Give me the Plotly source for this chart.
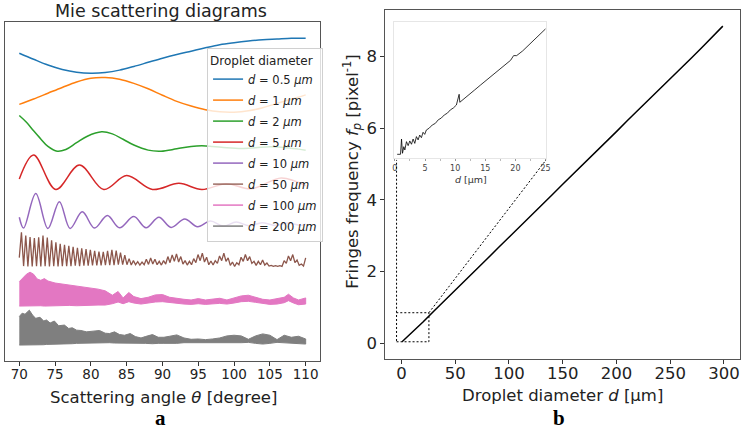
import numpy as np
import plotly.graph_objects as go

# ---------------- panel a: Mie scattering diagrams (stacked, arbitrary units) ----------------
d_labels = ["0.5", "1", "2", "5", "10", "50", "100", "200"]
colors = ["#1f77b4", "#ff7f0e", "#2ca02c", "#d62728", "#9467bd", "#8c564b", "#e377c2", "#7f7f7f"]

theta_05 = [70, 72, 74, 76, 78, 80, 82, 84, 86, 88, 90, 92, 94, 96, 98, 100, 102, 104, 106, 108, 110]
I_05 = [90.8, 89.0, 87.3, 86.0, 85.2, 84.9, 85.1, 85.8, 86.9, 88.1, 89.3, 90.4, 91.4, 92.4, 93.3,
        93.9, 94.4, 94.8, 95.0, 95.2, 95.2]

theta_1 = [70, 72, 74, 76, 78, 80, 82, 84, 86, 88, 90, 92, 94, 96, 98, 100, 102, 104, 106, 108, 110]
I_1 = [75.7, 77.3, 79.0, 80.7, 82.3, 83.4, 83.6, 83.1, 81.9, 80.3, 78.4, 76.6, 75.2, 74.1, 73.5,
       73.4, 73.8, 74.7, 76.0, 77.2, 78.5]

theta_2 = [70, 71, 72, 73, 74, 75.3, 76.5, 78, 79.5, 81.5, 83, 84.5, 86, 88, 89.8, 92, 94, 95.5,
           97, 99, 101, 103, 105, 107, 109, 110]
I_2 = [72.4, 70.4, 67.9, 65.5, 63.3, 61.9, 62.4, 64.4, 66.3, 67.6, 67.0, 65.4, 63.7, 62.2, 61.9,
       62.6, 63.3, 63.5, 63.3, 62.9, 62.7, 62.9, 63.2, 63.0, 62.5, 62.2]

theta_5 = [70, 72.0, 75.1, 78.4, 81.8, 85.0, 88.6, 92.3, 95.5, 98.9, 102.4, 106.6, 110]
I_5 = [53.7, 60.8, 50.6, 57.8, 50.6, 54.7, 50.6, 52.4, 50.6, 52.3, 50.8, 54.0, 51.7]

theta_10 = [70, 70.6, 72.3, 74.0, 75.6, 77.1, 78.8, 80.5, 82.3, 84.0, 86.0, 87.7, 89.5, 91.2, 93.1,
            94.9, 96.7, 98.5, 100.3, 102.1, 103.9, 105.7, 107.5, 109.3, 110]
I_10 = [42.4, 39.2, 49.4, 39.1, 47.0, 39.1, 44.0, 39.2, 42.9, 39.3, 42.6, 39.3, 42.4, 39.4, 41.9,
        39.6, 41.3, 39.8, 41.0, 39.9, 40.8, 40.0, 40.7, 40.0, 40.4]

# d = 50 um, sampled on a regular angular grid (70..110 deg)
I_50 = [30.5, 38.0, 28.0, 37.0, 27.9, 36.6, 27.9, 36.3, 28.0, 36.5,
        27.9, 37.0, 28.0, 36.4, 27.9, 35.6, 28.0, 35.0, 27.9, 34.6,
        28.0, 34.3, 28.0, 34.0, 28.0, 33.7, 28.1, 33.4, 28.0, 33.2,
        28.1, 33.0, 28.1, 32.8, 28.2, 32.5, 28.2, 32.3, 28.2, 32.2,
        28.3, 32.5, 28.3, 32.8, 28.3, 32.6, 28.4, 32.0, 28.4, 31.2,
        28.4, 30.2, 28.3, 29.6, 28.4, 29.3, 28.3, 29.2, 28.4, 30.0,
        28.5, 30.4, 28.6, 30.0, 28.4, 29.4, 28.3, 29.6, 28.6, 30.8,
        29.0, 31.3, 29.4, 31.6, 29.2, 30.8, 28.6, 29.6, 28.3, 29.4,
        28.4, 30.2, 29.0, 31.4, 29.6, 31.8, 29.2, 30.6, 28.4, 29.5,
        28.3, 29.6, 28.8, 31.0, 29.6, 31.8, 29.4, 30.4, 28.2, 29.2,
        27.9, 29.0, 28.4, 30.6, 29.4, 31.4, 29.6, 30.8, 28.8, 29.4,
        28.2, 29.4, 28.4, 29.8, 28.3, 28.9, 28.0, 28.2, 27.9, 28.1,
        27.9, 28.1, 27.9, 29.6, 28.8, 31.0, 29.6, 31.4, 29.0, 29.8,
        28.2, 28.6, 28.0, 30.4]
theta_50 = np.linspace(70, 110, len(I_50))

# d = 100 um and d = 200 um: fringes too dense to resolve, read as upper/lower envelopes
theta_100 = [70, 70.5, 71, 71.5, 72, 72.5, 73, 73.5, 74, 75, 76, 77, 78, 79, 80, 81, 82, 83, 83.8,
             84.5, 85.3, 86, 87, 88, 89, 90, 91, 92, 93, 94, 95, 96, 97, 98, 99, 100, 101, 102,
             103, 104, 105, 106, 107, 107.6, 108.3, 109, 110]
I_100_top = [23.4, 24.6, 25.6, 26.2, 25.6, 24.2, 23.8, 24.3, 23.6, 23.0, 22.7, 22.4, 22.1, 21.8,
             21.6, 21.2, 20.7, 19.4, 20.5, 18.6, 20.2, 19.0, 18.4, 18.8, 19.5, 19.6, 18.8, 18.4,
             18.2, 18.0, 18.4, 18.0, 18.2, 18.5, 18.0, 18.6, 19.2, 19.4, 18.8, 18.2, 18.0, 18.3,
             18.8, 19.7, 18.6, 18.0, 18.6]
I_100_bot = [16.2, 16.3, 16.2, 16.3, 16.2, 16.3, 16.3, 16.2, 16.3, 16.3, 16.3, 16.4, 16.3, 16.4,
             16.4, 16.5, 16.5, 16.9, 17.4, 16.9, 17.5, 17.1, 16.8, 17.0, 17.4, 17.5, 17.2, 17.0,
             16.8, 16.7, 16.9, 16.7, 16.8, 17.0, 16.8, 17.1, 17.5, 17.6, 17.3, 16.9, 16.7, 16.8,
             17.2, 17.8, 17.1, 16.6, 16.8]

theta_200 = [70, 70.4, 70.8, 71.4, 71.9, 72.3, 72.9, 73.4, 73.8, 74.3, 74.9, 75.5, 76.3, 76.9,
             77.4, 78.0, 78.6, 79.4, 80.3, 81.2, 82.0, 82.6, 83.3, 84.0, 84.7, 85.5, 86.2, 87.0,
             87.6, 88.6, 89.4, 90.2, 91.0, 92.0, 93.0, 94.0, 95.0, 96.0, 97.0, 98.0, 99.0, 100.0,
             101.0, 102.0, 103.0, 104.0, 105.0, 106.0, 107.0, 108.0, 109.0, 110]
I_200_top = [13.1, 14.1, 13.8, 15.0, 13.4, 12.6, 12.9, 11.8, 12.1, 11.2, 11.8, 10.4, 10.6, 9.6,
             9.8, 9.1, 9.0, 8.6, 8.8, 9.0, 8.2, 8.1, 8.6, 7.8, 7.6, 8.1, 7.2, 6.8, 7.2, 7.8,
             7.0, 7.0, 7.3, 7.7, 6.8, 6.4, 6.5, 6.3, 6.5, 6.8, 7.4, 7.6, 7.4, 6.4, 7.4, 8.0,
             7.6, 6.3, 7.6, 7.0, 7.3, 6.5]
I_200_bot = [4.7, 4.6, 4.7, 4.6, 4.7, 4.8, 4.8, 4.8, 4.9, 4.9, 4.9, 5.0, 5.0, 5.1, 5.1, 5.2,
             5.2, 5.3, 5.3, 5.4, 5.4, 5.4, 5.3, 5.3, 5.2, 5.1, 5.1, 5.2, 5.2, 5.1, 5.2, 5.2,
             5.3, 5.2, 5.4, 5.5, 5.4, 5.5, 5.4, 5.3, 5.3, 5.4, 5.4, 5.5, 5.2, 5.0, 5.2, 5.5,
             5.3, 5.2, 5.1, 5.0]

# ---------------- panel b: fringe frequency vs droplet diameter ----------------
d_main = [0.5, 10, 20, 30, 40, 50, 60, 70, 80, 90, 100, 110, 120, 130, 140, 150, 160, 170, 180,
          190, 200, 210, 220, 230, 240, 250, 260, 270, 280, 290, 299]
fp_main = [0.04, 0.30, 0.59, 0.89, 1.18, 1.47, 1.77, 2.07, 2.36, 2.66, 2.95, 3.25, 3.54, 3.83,
           4.13, 4.43, 4.72, 5.01, 5.31, 5.60, 5.90, 6.20, 6.49, 6.78, 7.08, 7.37, 7.66, 7.96,
           8.26, 8.55, 8.84]

d_inset = [0.38, 0.93, 1.10, 1.26, 1.48, 1.65, 1.92, 2.20, 2.47, 2.75, 3.02, 3.30, 3.57, 3.85,
           4.12, 4.40, 4.67, 4.95, 5.22, 5.7, 6.2, 6.7, 7.2, 7.7, 8.2, 8.7, 9.2, 9.7, 10.2, 10.66,
           10.77, 11.26, 12.25, 13.24, 14.23, 15.2, 16.2, 17.2, 18.2, 19.2, 19.7, 20.2, 21.2,
           22.1, 23.1, 24.1, 25.0]
fp_inset = [0.015, 0.015, 0.103, 0.021, 0.059, 0.040, 0.088, 0.065, 0.092, 0.073, 0.103, 0.078,
            0.117, 0.098, 0.126, 0.111, 0.142, 0.130, 0.155, 0.166, 0.184, 0.193, 0.214, 0.224,
            0.242, 0.252, 0.271, 0.282, 0.299, 0.361, 0.315, 0.330, 0.357, 0.386, 0.415, 0.443,
            0.472, 0.501, 0.530, 0.557, 0.584, 0.584, 0.611, 0.641, 0.674, 0.703, 0.738]

zoom_d = [-4.6, 25.5]        # dotted zoom box on the main axes
zoom_fp = [0.04, 0.85]
inset_corner_d = [-4.6, 134.5]  # inset bottom corners expressed in main-axes units
inset_corner_fp = 5.11

FONT = "DejaVu Sans"
W, H = 748, 431

fig = go.Figure()

smooth = [(theta_05, I_05), (theta_1, I_1), (theta_2, I_2), (theta_5, I_5), (theta_10, I_10)]
for k, (th, val) in enumerate(smooth):
    fig.add_trace(go.Scatter(x=th, y=val, mode="lines",
                             line=dict(color=colors[k], width=1.5, shape="spline"),
                             name="<i>d</i> = %s <i>μm</i>" % d_labels[k], legendgroup=str(k)))

fig.add_trace(go.Scatter(x=theta_50, y=I_50, mode="lines", line=dict(color=colors[5], width=1.3),
                         name="<i>d</i> = %s <i>μm</i>" % d_labels[5], legendgroup="5"))

bands = [(theta_100, I_100_top, I_100_bot), (theta_200, I_200_top, I_200_bot)]
for k, (th, top, bot) in enumerate(bands):
    c = colors[6 + k]
    fig.add_trace(go.Scatter(x=[None], y=[None], mode="lines", line=dict(color=c, width=1.5),
                             name="<i>d</i> = %s <i>μm</i>" % d_labels[6 + k],
                             legendgroup=str(6 + k)))
    fig.add_trace(go.Scatter(x=list(th) + list(th)[::-1], y=list(top) + list(bot)[::-1],
                             mode="lines", fill="toself", fillcolor=c,
                             line=dict(color=c, width=1), showlegend=False, hoverinfo="skip"))

fig.add_trace(go.Scatter(x=d_main, y=fp_main, mode="lines", line=dict(color="black", width=1.5),
                         xaxis="x2", yaxis="y2", showlegend=False))
fig.add_trace(go.Scatter(x=d_inset, y=fp_inset, mode="lines", line=dict(color="black", width=0.8),
                         xaxis="x3", yaxis="y3", showlegend=False))

dot = dict(color="black", width=1, dash="2px,2px")
fig.add_shape(type="rect", xref="x2", yref="y2", x0=zoom_d[0], x1=zoom_d[1],
              y0=zoom_fp[0], y1=zoom_fp[1], line=dot)
fig.add_shape(type="line", xref="x2", yref="y2", x0=zoom_d[0], y0=zoom_fp[1],
              x1=inset_corner_d[0], y1=inset_corner_fp, line=dot)
fig.add_shape(type="line", xref="x2", yref="y2", x0=zoom_d[1], y0=zoom_fp[1],
              x1=inset_corner_d[1], y1=inset_corner_fp, line=dot)

frame = dict(showline=True, mirror=True, linecolor="#555", linewidth=1, showgrid=False,
             zeroline=False)

def px(x):
    return x / W

def py(y):
    return 1 - y / H

fig.update_layout(
    width=W, height=H, autosize=False,
    margin=dict(l=0, r=0, t=0, b=0),
    paper_bgcolor="white", plot_bgcolor="white",
    font=dict(family=FONT, color="#222"),
    xaxis=dict(domain=[px(3), px(321)], range=[68, 112], anchor="y", dtick=5, ticks="outside",
               ticklen=4, tickcolor="#333", tickfont=dict(size=13.5), ticklabelstandoff=-3,
               **frame),
    yaxis=dict(domain=[py(361), py(22)], range=[0, 100], anchor="x", showticklabels=False,
               ticks="", **frame),
    xaxis2=dict(domain=[px(387), px(745)], range=[-15, 315], anchor="y2", dtick=50,
                ticks="outside", ticklen=4, tickcolor="#333", tickfont=dict(size=16.5),
                ticklabelstandoff=-5, **frame),
    yaxis2=dict(domain=[py(359), py(10)], range=[-0.44, 9.29], anchor="x2", dtick=2,
                ticks="outside", ticklen=4, tickcolor="#333", tickfont=dict(size=16.5), **frame),
    xaxis3=dict(domain=[px(395.7), px(549)], range=[-0.15, 25.05], anchor="y3", dtick=5,
                ticks="outside", ticklen=2, tickcolor="#999", tickfont=dict(size=8, color="#444"),
                minor=dict(dtick=2.5, ticks="outside", ticklen=2, tickcolor="#bbb"),
                showline=True, mirror=True, linecolor="#e6e6e6", linewidth=1, showgrid=False,
                zeroline=False),
    yaxis3=dict(domain=[py(158.3), py(22.3)], range=[-0.008, 0.776], anchor="x3",
                showticklabels=False, ticks="", showline=True, mirror=True, linecolor="#e6e6e6",
                linewidth=1, showgrid=False, zeroline=False),
    legend=dict(x=px(207), y=py(48), xanchor="left", yanchor="top",
                bgcolor="rgba(255,255,255,0.8)", bordercolor="#d0d0d0", borderwidth=1,
                font=dict(size=11.5, family=FONT, color="#222"), tracegroupgap=2,
                title=dict(text="Droplet diameter", font=dict(size=12, family=FONT))),
    annotations=[
        dict(text="Mie scattering diagrams", x=px(161), y=py(11), xref="paper", yref="paper",
             showarrow=False, xanchor="center", yanchor="middle", font=dict(size=17.5)),
        dict(text="Scattering angle <i>θ</i> [degree]", x=px(163), y=py(397), xref="paper",
             yref="paper", showarrow=False, xanchor="center", yanchor="middle",
             font=dict(size=16.5)),
        dict(text="Droplet diameter <i>d</i> [μm]", x=px(566), y=py(395), xref="paper",
             yref="paper", showarrow=False, xanchor="center", yanchor="middle",
             font=dict(size=16.5)),
        dict(text="Fringes frequency <i>f<sub>p</sub></i> [pixel<sup>-1</sup>]", x=px(353),
             y=py(172), xref="paper", yref="paper", showarrow=False, textangle=-90,
             xanchor="center", yanchor="middle", font=dict(size=16.5)),
        dict(text="<i>d</i> [μm]", x=px(473), y=py(179), xref="paper", yref="paper",
             showarrow=False, xanchor="center", yanchor="middle",
             font=dict(size=9.5, color="#333")),
        dict(text="<b>a</b>", x=px(160), y=py(431), xref="paper", yref="paper", showarrow=False,
             xanchor="center", yanchor="bottom", borderpad=0,
             font=dict(size=21, family="Liberation Serif", color="black")),
        dict(text="<b>b</b>", x=px(562), y=py(431), xref="paper", yref="paper", showarrow=False,
             xanchor="center", yanchor="bottom", borderpad=0,
             font=dict(size=21, family="Liberation Serif", color="black")),
    ],
)

# the page's default 8px body margin would shift the fixed-size figure
fig.write_html("out.html", config={"displayModeBar": False},
               post_script="document.body.style.margin='0';")
